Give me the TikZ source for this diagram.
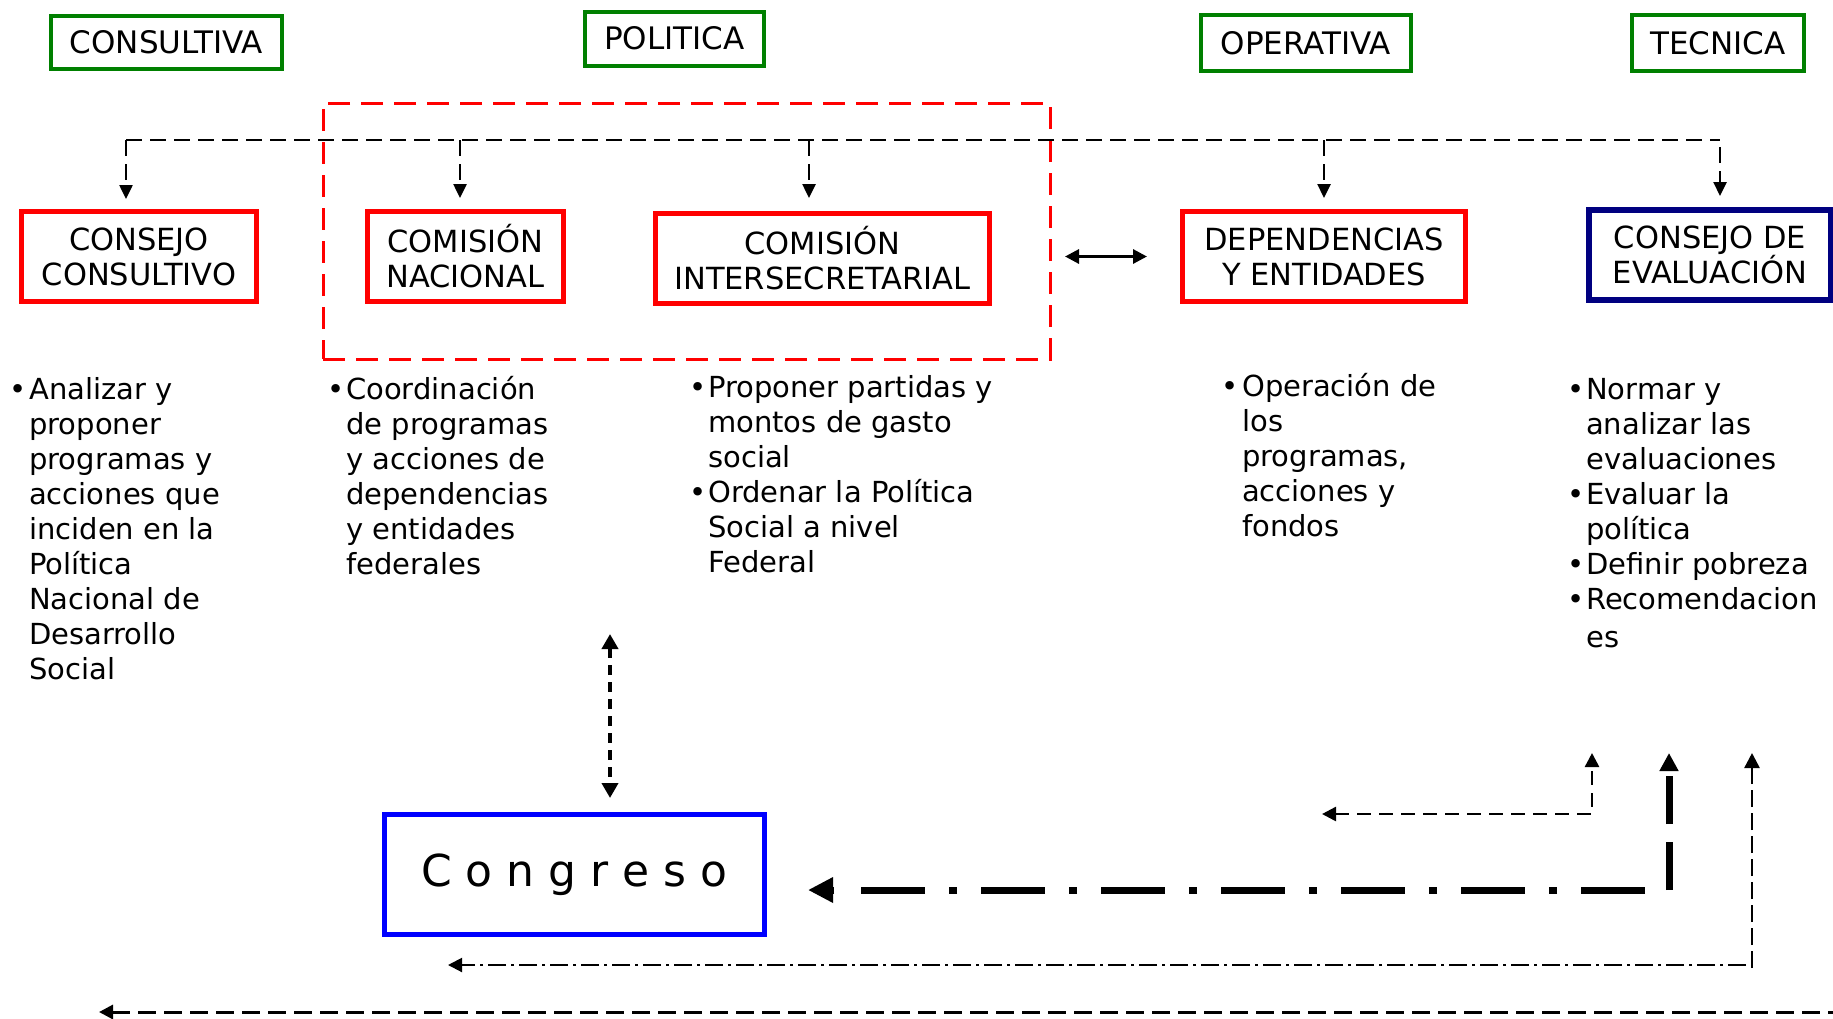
\documentclass[tikz,border=0pt]{standalone}
\usepackage{fontspec}
\setmainfont{DejaVu Sans}
\usetikzlibrary{arrows.meta}
\definecolor{ggreen}{RGB}{0,128,0}
\definecolor{rred}{RGB}{255,0,0}
\definecolor{nnavy}{RGB}{0,0,128}
\definecolor{bblue}{RGB}{0,0,255}
\begin{document}
\begin{tikzpicture}[x=1pt,y=-1pt,
  catbox/.style={draw=ggreen,line width=4pt,inner sep=0pt,font=\fontsize{31}{35}\selectfont},
  orgbox/.style={draw=rred,line width=5pt,align=center,inner sep=0pt,font=\fontsize{30.5}{35}\selectfont},
  bul/.style={anchor=base west,inner sep=0pt,font=\fontsize{29}{35}\selectfont},
  bdot/.style={anchor=base,inner sep=0pt,font=\fontsize{29}{35}\selectfont},
  bus/.style={dash pattern=on 16pt off 8pt,line width=2.5pt},
  tip/.style={-{Triangle[length=14pt,width=13pt]}},
  dtip/.style={{Triangle[length=14pt,width=14pt]}-{Triangle[length=14pt,width=14pt]}},
  thickdd/.style={line width=7pt,dash pattern=on 64pt off 24pt on 8pt off 24pt},
]
\useasboundingbox (0,0) rectangle (1833,1018);
\clip (0,0) rectangle (1833,1018);
\fill[white] (0,0) rectangle (1833,1018);

% category boxes
\node[catbox,minimum width=231pt,minimum height=53pt] (consultiva) at (166.5,42.5) {CONSULTIVA};
\node[catbox,minimum width=179pt,minimum height=54pt] (politica) at (674.5,38.5) {POLITICA};
\node[catbox,minimum width=210pt,minimum height=56pt] (operativa) at (1306,43) {OPERATIVA};
\node[catbox,minimum width=172pt,minimum height=56pt] (tecnica) at (1718,43) {TECNICA};

% political group
\node[draw=rred,line width=3pt,dash pattern=on 22pt off 11pt,minimum width=727pt,minimum height=256pt,inner sep=0pt] (polgroup) at (686.5,231) {};

% organ boxes
\node[orgbox,minimum width=235pt,minimum height=90pt] (cc) at (139,256.5) {CONSEJO\\CONSULTIVO};
\node[orgbox,minimum width=196pt,minimum height=90pt] (cn) at (465.5,256.5) {COMISIÓN\\NACIONAL};
\node[orgbox,minimum width=334pt,minimum height=90pt] (ci) at (822.5,258.5) {COMISIÓN\\INTERSECRETARIAL};
\node[orgbox,minimum width=283pt,minimum height=90pt] (dep) at (1324,256.5) {DEPENDENCIAS\\Y ENTIDADES};
\node[orgbox,draw=nnavy,line width=6pt,minimum width=242pt,minimum height=90pt] (ev) at (1710,255) {CONSEJO DE\\EVALUACIÓN};

% bus
\coordinate (b1) at (126,140);
\coordinate (b2) at (460,140);
\coordinate (b3) at (809,140);
\coordinate (b4) at (1324,140);
\coordinate (b5) at (1720,140);
\coordinate (b5s) at (1720,147);
\draw[bus] (b1) -- (b5);
\draw[bus,tip,shorten >=10pt] (b1) -- (b1 |- cc.north);
\draw[bus,tip,shorten >=11pt] (b2) -- (b2 |- cn.north);
\draw[bus,tip,shorten >=13pt] (b3) -- (b3 |- ci.north);
\draw[bus,tip,shorten >=11pt] (b4) -- (b4 |- dep.north);
\draw[bus,tip,shorten >=11pt] (b5s) -- (b5s |- ev.north);

% double arrow between group and dependencias
\draw[line width=3pt,dtip] ([xshift=13.5pt]polgroup.east |- dep.west) -- ([xshift=-33pt]dep.west);

% bullet texts
\node[bdot] (d1) at (18.5,399) {•};
\foreach \t [count=\i] in {Analizar y,proponer,programas y,acciones que,inciden en la,Política,Nacional de,Desarrollo,Social}
  \node[bul] (ta\i) at (29,{399+35*(\i-1)}) {\t};

\node[bdot] (d2) at (336,399) {•};
\foreach \t [count=\i] in {Coordinación,de programas,y acciones de,dependencias,y entidades,federales}
  \node[bul] (tb\i) at (346,{399+35*(\i-1)}) {\t};

\node[bdot] (d3a) at (698.5,397) {•};
\node[bdot] (d3b) at (698.5,502) {•};
\foreach \t [count=\i] in {Proponer partidas y,montos de gasto,social,Ordenar la Política,Social a nivel,Federal}
  \node[bul] (tc\i) at (708,{397+35*(\i-1)}) {\t};

\node[bdot] (d4) at (1230,396) {•};
\foreach \t [count=\i] in {Operación de,los,{programas,},acciones y,fondos}
  \node[bul] (td\i) at (1242,{396+35*(\i-1)}) {\t};

\node[bdot] (d5a) at (1576,399) {•};
\node[bdot] (d5b) at (1576,504) {•};
\node[bdot] (d5c) at (1576,574) {•};
\node[bdot] (d5d) at (1576,609) {•};
\foreach \t [count=\i] in {Normar y,analizar las,evaluaciones,Evaluar la,política,Definir pobreza,Recomendacion}
  \node[bul] (te\i) at (1586,{399+35*(\i-1)}) {\t};
\node[bul] (te8) at (1586,647) {es};

% Congreso
\node[draw=bblue,line width=5pt,minimum width=380pt,minimum height=120pt,inner sep=0pt,font=\fontsize{44}{50}\selectfont] (congreso) at (574.5,874.5) {C o n g r e s o};

\coordinate (cgtop) at (610,634);
\draw[line width=4pt,dash pattern=on 10pt off 7pt,{Triangle[length=15pt,width=16pt]}-{Triangle[length=15pt,width=16pt]},shorten >=14pt] (cgtop) -- (cgtop |- congreso.north);

% bottom connectors
\coordinate (e1) at (1592,753);
\coordinate (e1b) at (1322,814);
\draw[line width=2.5pt,dash pattern=on 14pt off 8pt,dtip] (e1b) -- (e1b -| e1) -- (e1);

% thick dash-dot connector
\coordinate (e2) at (1669,753);
\coordinate (e2c) at (1669,890);
\coordinate (e2h) at (859,890);
\coordinate (e2t) at (834,890);
\coordinate (e2b) at (808,890);
\draw[line width=7pt,dash pattern=on 48pt off 18pt,-{Triangle[length=18pt,width=18pt]}] (e2c) -- (e2);
\draw[thickdd,dash phase=96pt] (e2c) -- (e2h);
\draw[line width=7pt,-{Triangle[length=25pt,width=24pt]}] (e2t) -- (e2b);

% thin dash-dot connector
\coordinate (e3) at (1752,753);
\coordinate (e3c) at (1752,968);
\coordinate (e3h) at (1746,965);
\coordinate (e3b) at (448,965);
\draw[line width=2.5pt,dash pattern=on 17pt off 6pt,-{Triangle[length=15pt,width=15pt]}] (e3c) -- (e3);
\draw[line width=2pt,dash pattern=on 18pt off 5pt on 3pt off 5pt,-{Triangle[length=14pt,width=14pt]}] (e3h) -- (e3b);

% bottom dashed connector
\coordinate (e4) at (1841,753);
\coordinate (e4b) at (99,1012);
\draw[line width=3pt,dash pattern=on 18pt off 8pt,{Triangle[length=14pt,width=14pt]}-{Triangle[length=15pt,width=15pt]}] (e4b) -- (e4b -| e4) -- (e4);
\end{tikzpicture}
\end{document}
